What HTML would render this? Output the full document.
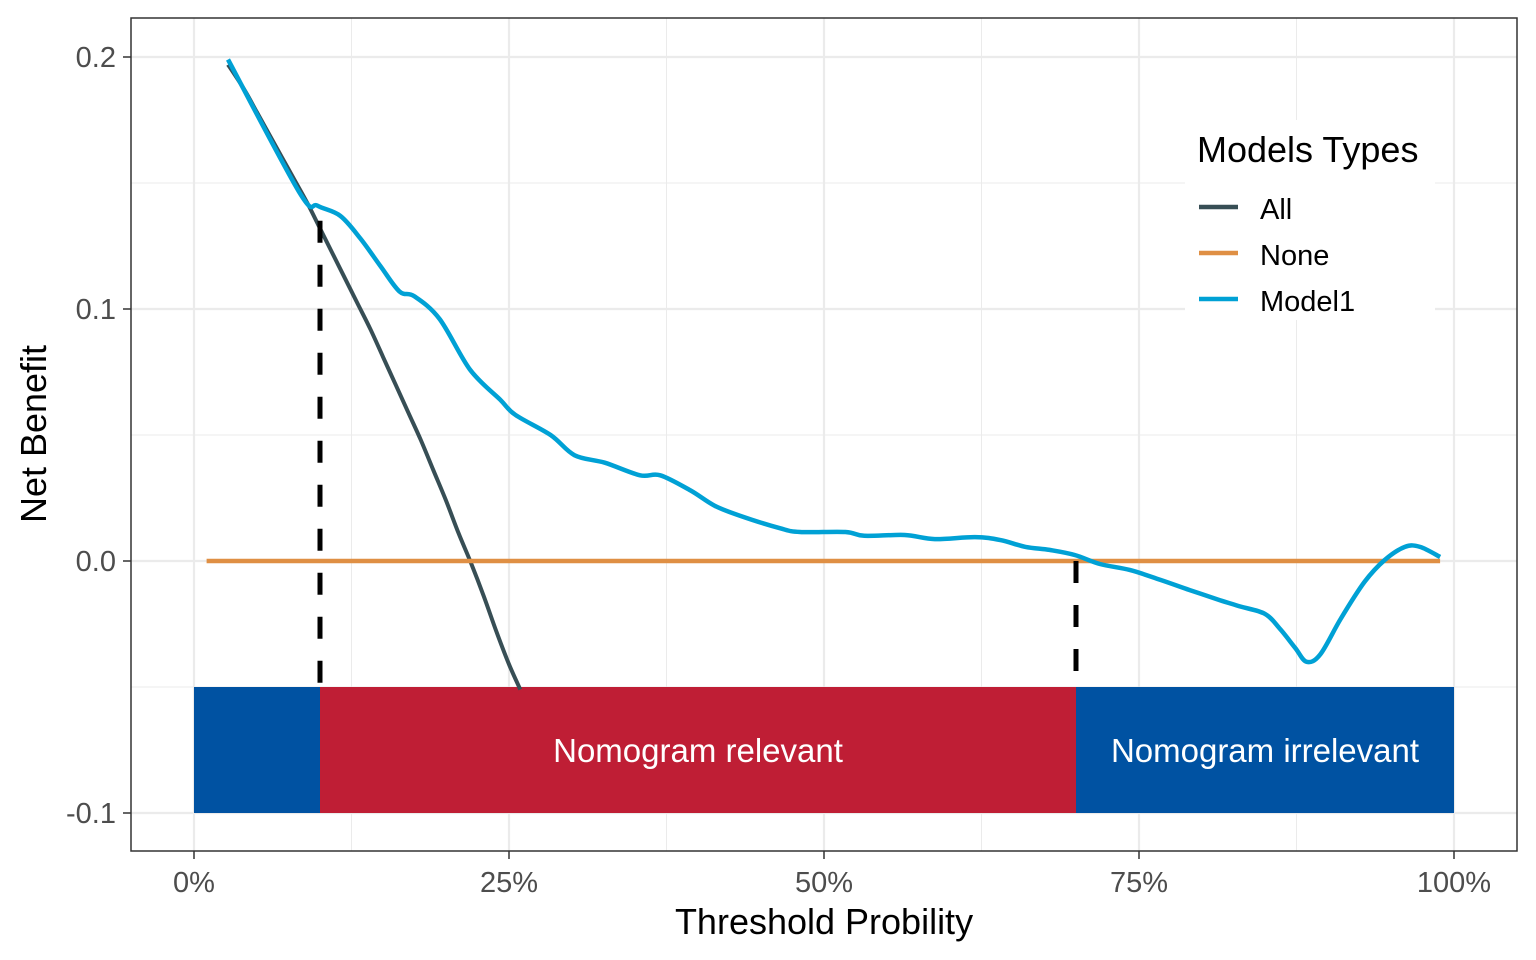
<!DOCTYPE html>
<html><head><meta charset="utf-8"><style>
html,body{margin:0;padding:0;background:#fff;}
svg{display:block;font-family:"Liberation Sans",Arial,sans-serif;}
</style></head><body>
<svg id="chart" width="1536" height="960" viewBox="0 0 1536 960" xmlns="http://www.w3.org/2000/svg">
<g id="grid"></g>
<g id="bands"></g>
<g id="series"></g>
<rect x="131" y="18" width="1386" height="833" fill="none" stroke="#333" stroke-width="1.5"/>
<g id="axes"></g>
<text x="824" y="934" font-size="36" text-anchor="middle" fill="#000">Threshold Probility</text>
<text transform="translate(46,434) rotate(-90)" font-size="36" text-anchor="middle" fill="#000">Net Benefit</text>
<g>
<rect x="1185" y="120" width="250" height="200" fill="#fff"/>
<text x="1197" y="162" font-size="36" fill="#000">Models Types</text>
<line x1="1199" y1="207" x2="1238" y2="207" stroke="#374E55" stroke-width="4.5"/>
<text x="1260" y="219" font-size="29">All</text>
<line x1="1199" y1="253" x2="1238" y2="253" stroke="#DF8F44" stroke-width="4.5"/>
<text x="1260" y="265" font-size="29">None</text>
<line x1="1199" y1="299" x2="1238" y2="299" stroke="#00A1D5" stroke-width="4.5"/>
<text x="1260" y="311" font-size="29">Model1</text>
</g>
</svg>
<script>
const xTicks=[0,25,50,75,100];
const xTickLabels=["0%","25%","50%","75%","100%"];
const yTicks=[-0.1,0,0.1,0.2];
const yTickLabels=["-0.1","0.0","0.1","0.2"];
const xMinor=[12.5,37.5,62.5,87.5];
const yMinor=[-0.05,0.05,0.15];
const model1X=[2.7,8.4,9.8,11.6,13.2,14.8,16.3,17.5,19.5,21.9,24.3,25.5,28.3,30.2,32.6,35.4,37.0,39.4,41.3,43.3,46.5,48.1,51.7,53.2,56.4,58.8,62.0,64.0,66.0,67.9,69.9,71.9,74.3,76.7,79.0,81.4,83.0,85.0,86.2,87.4,88.3,89.4,91.0,92.9,94.5,96.1,97.3,98.9];
const model1Y=[0.199,0.146,0.141,0.137,0.128,0.117,0.107,0.105,0.096,0.076,0.064,0.058,0.050,0.042,0.039,0.034,0.034,0.028,0.022,0.018,0.013,0.0115,0.0115,0.010,0.0103,0.0087,0.0095,0.0083,0.0056,0.0044,0.0024,-0.0012,-0.0036,-0.0075,-0.0115,-0.0155,-0.018,-0.021,-0.027,-0.0345,-0.040,-0.037,-0.023,-0.0083,0.0004,0.0056,0.0056,0.0016];
const allX=[2.7,4,5,6,7,8,9,10,11,12,13,14,15,16,17,18,19,20,21,22,23,24,25,25.9];
const allY=[0.197,0.187,0.178,0.169,0.160,0.151,0.142,0.132,0.122,0.112,0.102,0.092,0.081,0.070,0.059,0.048,0.036,0.024,0.011,-0.001,-0.014,-0.028,-0.041,-0.051];
const noneX=[1,98.9];
const noneY=[0,0];
const bandStart=[0,10,70];
const bandEnd=[10,70,100];
const bandLabels=["","Nomogram relevant","Nomogram irrelevant"];
const bandTop=-0.05, bandBottom=-0.1;
const cutoffX=[10,70];
const cutoffTopY=[0.135,0];

const NS="http://www.w3.org/2000/svg";
const sx=v=>194+v*12.6;
const sy=v=>561-v*2520;
function mk(tag,attrs,parent){const e=document.createElementNS(NS,tag);for(const k in attrs)e.setAttribute(k,attrs[k]);parent.appendChild(e);return e;}
const grid=document.getElementById('grid'),bands=document.getElementById('bands'),series=document.getElementById('series'),axes=document.getElementById('axes');
xMinor.forEach(v=>{const l=mk('line',{x1:sx(v),x2:sx(v),y1:18,y2:851,stroke:'#ebebeb','stroke-width':1},grid);

});
yMinor.forEach(v=>{const l=mk('line',{x1:131,x2:1517,y1:sy(v),y2:sy(v),stroke:'#ebebeb','stroke-width':1},grid);

});
xTicks.forEach((v,i)=>{const l=mk('line',{x1:sx(v),x2:sx(v),y1:18,y2:851,stroke:'#ebebeb','stroke-width':2.2},grid);


const t=mk('line',{x1:sx(v),x2:sx(v),y1:851,y2:859,stroke:'#333','stroke-width':1.5},axes);


const tx=mk('text',{x:sx(v),y:892,'font-size':29,'text-anchor':'middle',fill:'#4d4d4d'},axes);tx.textContent=xTickLabels[i];

});
yTicks.forEach((v,i)=>{const l=mk('line',{x1:131,x2:1517,y1:sy(v),y2:sy(v),stroke:'#ebebeb','stroke-width':2.2},grid);


const t=mk('line',{x1:123,x2:131,y1:sy(v),y2:sy(v),stroke:'#333','stroke-width':1.5},axes);


const tx=mk('text',{x:116,y:sy(v)+10,'font-size':29,'text-anchor':'end',fill:'#4d4d4d'},axes);tx.textContent=yTickLabels[i];

});
const bandColors=['#0052A2','#BF1E35','#0052A2'];
bandStart.forEach((s,i)=>{const r=mk('rect',{x:sx(s),y:sy(bandTop),width:sx(bandEnd[i])-sx(s),height:sy(bandBottom)-sy(bandTop),fill:bandColors[i]},bands);


if(bandLabels[i]){const t=mk('text',{x:(sx(s)+sx(bandEnd[i]))/2,y:(sy(bandTop)+sy(bandBottom))/2+12,'font-size':33,'text-anchor':'middle',fill:'#fff'},bands);t.textContent=bandLabels[i];

}});
function path(xs,ys){return xs.map((x,i)=>(i?'L':'M')+sx(x).toFixed(1)+','+sy(ys[i]).toFixed(1)).join(' ');}
function smooth(xs,ys){const p=xs.map((x,i)=>[sx(x),sy(ys[i])]);let d='M'+p[0][0].toFixed(1)+','+p[0][1].toFixed(1);
for(let i=0;i<p.length-1;i++){const p0=p[Math.max(0,i-1)],p1=p[i],p2=p[i+1],p3=p[Math.min(p.length-1,i+2)];
const c1=[p1[0]+(p2[0]-p0[0])/6,p1[1]+(p2[1]-p0[1])/6],c2=[p2[0]-(p3[0]-p1[0])/6,p2[1]-(p3[1]-p1[1])/6];
d+=' C'+c1.map(v=>v.toFixed(1)).join(',')+' '+c2.map(v=>v.toFixed(1)).join(',')+' '+p2.map(v=>v.toFixed(1)).join(',');}return d;}
const pAll=mk('path',{d:smooth(allX,allY),fill:'none',stroke:'#374E55','stroke-width':4},series);


const pNone=mk('path',{d:path(noneX,noneY),fill:'none',stroke:'#DF8F44','stroke-width':4.5},series);


cutoffX.forEach((c,i)=>{const l=mk('line',{x1:sx(c),x2:sx(c),y1:sy(cutoffTopY[i]),y2:sy(bandTop),stroke:'#000','stroke-width':5,'stroke-dasharray':'22 22'},series);

});
const pM=mk('path',{d:smooth(model1X,model1Y),fill:'none',stroke:'#00A1D5','stroke-width':4.5,'stroke-linejoin':'round'},series);


</script>
</body></html>
